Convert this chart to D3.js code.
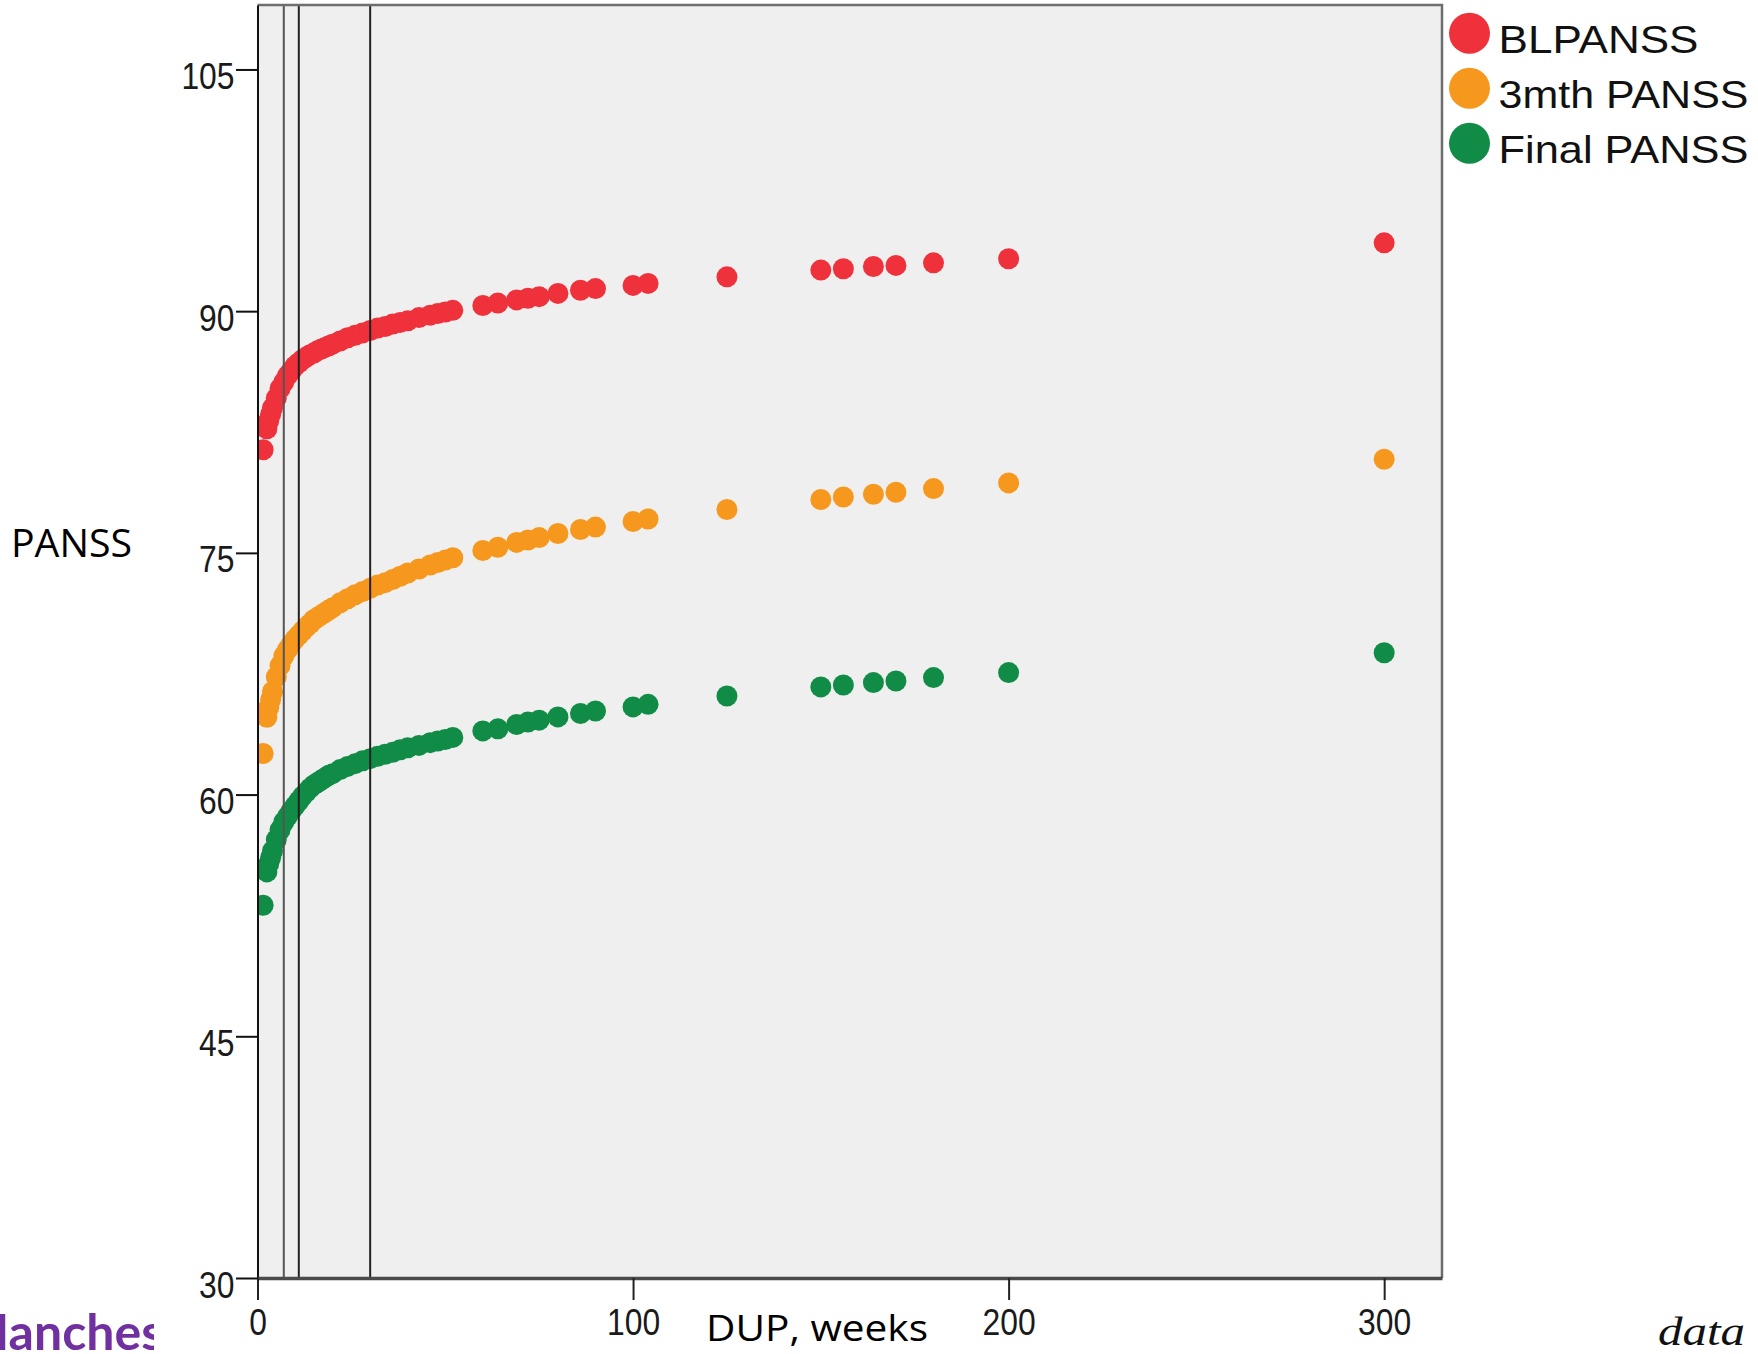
<!DOCTYPE html>
<html>
<head>
<meta charset="utf-8">
<script src="https://cdn.jsdelivr.net/npm/d3@7"></script>
<style>
  html, body { margin: 0; padding: 0; background: #ffffff; }
  svg { display: block; }
</style>
</head>
<body>
<svg id="chart" width="1758" height="1354"></svg>
<script>
// ---------------- data ----------------
const dup = [1.5, 2.5, 3, 3.5, 4, 5, 6, 7, 8, 9, 10, 11, 12, 13, 14, 15, 16, 17, 18, 19, 20,
  22, 24, 26, 28, 30, 32, 34, 36, 38, 40, 43, 46, 48, 50, 52, 60, 64, 69, 72, 75,
  80, 86, 90, 100, 104, 125, 150, 156, 164, 170, 180, 200, 300];

const blPanss = [81.4, 82.7, 83.2, 83.6, 84.0, 84.6, 85.2, 85.6, 86.0, 86.3, 86.6, 86.8, 87.0, 87.15, 87.3, 87.4, 87.55, 87.65, 87.75, 87.85, 87.95,
  88.15, 88.35, 88.5, 88.65, 88.8, 88.95, 89.05, 89.2, 89.3, 89.4, 89.6, 89.75, 89.85, 89.95, 90.05, 90.35, 90.5, 90.7, 90.8, 90.9,
  91.1, 91.3, 91.4, 91.6, 91.72, 92.13, 92.55, 92.63, 92.77, 92.84, 93.0, 93.25, 94.24];

const mth3Panss = [62.55, 64.8, 65.4, 65.9, 66.4, 67.3, 68.0, 68.6, 69.0, 69.35, 69.65, 69.9, 70.15, 70.4, 70.6, 70.85, 71.0, 71.15, 71.3, 71.45, 71.6,
  71.9, 72.15, 72.4, 72.6, 72.8, 73.0, 73.15, 73.35, 73.55, 73.75, 74.0, 74.25, 74.4, 74.55, 74.7, 75.15, 75.35, 75.65, 75.8, 75.95,
  76.2, 76.45, 76.6, 76.95, 77.1, 77.69, 78.31, 78.47, 78.64, 78.76, 78.99, 79.34, 80.81];

const finalPanss = [53.13, 55.2, 55.7, 56.1, 56.5, 57.2, 57.8, 58.3, 58.65, 59.0, 59.3, 59.6, 59.9, 60.15, 60.4, 60.6, 60.75, 60.9, 61.05, 61.2, 61.3,
  61.55, 61.75, 61.92, 62.1, 62.23, 62.38, 62.5, 62.62, 62.78, 62.9, 63.05, 63.22, 63.32, 63.42, 63.55, 63.95, 64.08, 64.35, 64.5, 64.62,
  64.82, 65.03, 65.19, 65.44, 65.6, 66.12, 66.68, 66.8, 66.95, 67.05, 67.26, 67.57, 68.8];

const seriesNames = ["BLPANSS", "3mth PANSS", "Final PANSS"];
const seriesColors = ["#ef313b", "#f7981e", "#108c46"];
const xTicks = [0, 100, 200, 300];
const yTicks = [30, 45, 60, 75, 90, 105];
const refLines = [7, 11, 30];
const xDomain = [0, 315.4];
const yDomain = [30, 109];

// ---------------- layout ----------------
const plot = { left: 257.5, right: 1442, top: 5, bottom: 1278 };
const svg = d3.select("#chart");

const x = d3.scaleLinear().domain(xDomain).range([plot.left, plot.right]);
const y = d3.scaleLinear().domain(yDomain).range([plot.bottom, plot.top]);

// clip
svg.append("defs").append("clipPath").attr("id", "plotClip")
  .append("rect")
  .attr("x", plot.left).attr("y", plot.top)
  .attr("width", plot.right - plot.left).attr("height", plot.bottom - plot.top);
svg.select("defs").append("clipPath").attr("id", "logoClip")
  .append("rect").attr("x", 0).attr("y", 1290).attr("width", 154).attr("height", 70);

// plot background
svg.append("rect")
  .attr("x", plot.left).attr("y", plot.top)
  .attr("width", plot.right - plot.left).attr("height", plot.bottom - plot.top)
  .attr("fill", "#efefef");

// points
const series = [blPanss, mth3Panss, finalPanss];
const dots = svg.append("g").attr("clip-path", "url(#plotClip)");
series.forEach((vals, si) => {
  dots.append("g").selectAll("circle")
    .data(dup.map((d, i) => ({ x: d, y: vals[i] })))
    .join("circle")
    .attr("cx", d => x(d.x))
    .attr("cy", d => y(d.y))
    .attr("r", 10.5)
    .attr("fill", seriesColors[si]);
});

// reference lines
svg.append("g").selectAll("line")
  .data(refLines)
  .join("line")
  .attr("x1", d => x(d)).attr("x2", d => x(d))
  .attr("y1", plot.top).attr("y2", plot.bottom)
  .attr("stroke", (d, i) => i === 0 ? "#555" : "#222")
  .attr("stroke-width", 2);

// frame (top and right)
svg.append("path")
  .attr("d", `M${plot.left},${plot.top}H${plot.right}V${plot.bottom}`)
  .attr("fill", "none").attr("stroke", "#6e6e6e").attr("stroke-width", 2.5);

// axes
const digitW = 17.7;
const yAxis = svg.append("g")
  .attr("transform", `translate(${plot.left},0)`)
  .call(d3.axisLeft(y).tickValues(yTicks).tickSize(21.5).tickSizeOuter(0).tickPadding(1.5));
yAxis.select(".domain").attr("stroke", "#111").attr("stroke-width", 2);
yAxis.selectAll(".tick line").attr("stroke", "#111").attr("stroke-width", 2);
yAxis.selectAll(".tick text")
  .attr("font-family", "'Liberation Sans', Arial, sans-serif")
  .attr("font-size", 37)
  .attr("fill", "#1a1a1a")
  .attr("dy", null)
  .attr("y", 19)
  .attr("textLength", d => String(d).length * digitW)
  .attr("lengthAdjust", "spacingAndGlyphs");

const xAxis = svg.append("g")
  .attr("transform", `translate(0,${plot.bottom})`)
  .call(d3.axisBottom(x).tickValues(xTicks).tickSize(22).tickSizeOuter(0));
xAxis.select(".domain").attr("stroke", "#4a4a4a").attr("stroke-width", 3.5);
xAxis.selectAll(".tick line").attr("stroke", "#222").attr("stroke-width", 2);
xAxis.selectAll(".tick text")
  .attr("font-family", "'Liberation Sans', Arial, sans-serif")
  .attr("font-size", 37)
  .attr("fill", "#1a1a1a")
  .attr("dy", null)
  .attr("y", 57)
  .attr("textLength", d => String(d).length * digitW)
  .attr("lengthAdjust", "spacingAndGlyphs");

// axis titles
svg.append("text")
  .attr("x", 11).attr("y", 557)
  .attr("font-family", "'Open Sans', 'Noto Sans', sans-serif")
  .attr("font-size", 38)
  .attr("fill", "#000")
  .attr("textLength", 121).attr("lengthAdjust", "spacingAndGlyphs")
  .text("PANSS");

svg.append("text")
  .attr("x", 706).attr("y", 1341)
  .attr("font-family", "'Open Sans', 'Noto Sans', sans-serif")
  .attr("font-size", 37)
  .attr("fill", "#000")
  .attr("textLength", 222).attr("lengthAdjust", "spacingAndGlyphs")
  .text("DUP, weeks");

// legend
const legendY = [33.3, 88.3, 143.3];
const legendW = [200, 250, 250];
const legend = svg.append("g");
seriesNames.forEach((name, i) => {
  legend.append("circle")
    .attr("cx", 1469.5).attr("cy", legendY[i]).attr("r", 20.5)
    .attr("fill", seriesColors[i]);
  legend.append("text")
    .attr("x", 1498.5).attr("y", legendY[i] + 20)
    .attr("font-family", "'Liberation Sans', Arial, sans-serif")
    .attr("font-size", 39.5)
    .attr("fill", "#111")
    .attr("textLength", legendW[i]).attr("lengthAdjust", "spacingAndGlyphs")
    .text(name);
});

// slide fragments (cut off at the picture's edges, as in the source)
svg.append("text")
  .attr("clip-path", "url(#logoClip)")
  .attr("x", -38).attr("y", 1350)
  .attr("font-family", "Lato, 'Open Sans', sans-serif")
  .attr("font-weight", "bold")
  .attr("font-size", 50)
  .attr("fill", "#7030a0")
  .text("Manchester");

svg.append("text")
  .attr("x", 1658).attr("y", 1345)
  .attr("font-family", "'Liberation Serif', 'DejaVu Serif', serif")
  .attr("font-style", "italic")
  .attr("font-size", 40)
  .attr("fill", "#111")
  .attr("textLength", 87).attr("lengthAdjust", "spacingAndGlyphs")
  .text("data");
</script>
</body>
</html>
